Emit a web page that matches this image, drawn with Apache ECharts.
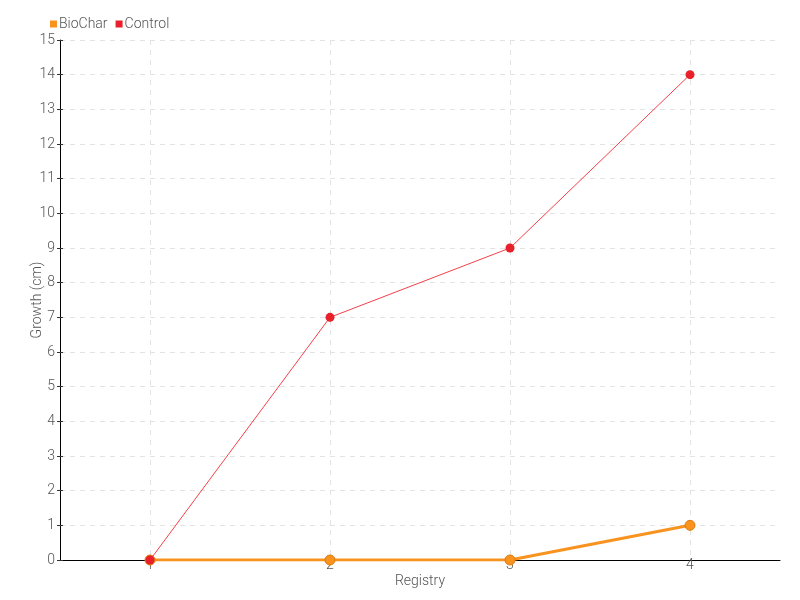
<!DOCTYPE html>
<html><head><meta charset="utf-8">
<script src="https://cdn.jsdelivr.net/npm/echarts@6/dist/echarts.min.js"></script>
<style>html,body{margin:0;padding:0;background:#fff}#c{width:800px;height:600px}</style>
</head><body><div id="c"></div>
<script>
const categories = ['1', '2', '3', '4'];
const biochar = [0, 0, 0, 1];
const control = [0, 7, 9, 14];
const FONT = "Roboto, 'DejaVu Sans', sans-serif";
const TXT = {fontFamily: FONT, fontSize: 14, fontWeight: 300, color: '#555'};
const chart = echarts.init(document.getElementById('c'));
chart.setOption({
  textStyle: {fontFamily: FONT},
  legend: {
    left: 45, top: 12, itemWidth: 7, itemHeight: 7, itemGap: 8,
    icon: 'rect',
    itemStyle: {borderWidth: 0},
    textStyle: Object.assign({padding: [0, 0, 0, -3]}, TXT),
    data: ['BioChar', 'Control']
  },
  grid: {left: 60, right: 20, top: 40, bottom: 40},
  xAxis: {
    type: 'category', data: categories, boundaryGap: true,
    name: 'Registry', nameLocation: 'middle', nameGap: 14, nameMoveOverlap: false,
    nameTextStyle: TXT,
    axisLine: {lineStyle: {color: '#000'}},
    axisTick: {alignWithLabel: true, length: 10, lineStyle: {color: '#555'}},
    axisLabel: Object.assign({margin: -2}, TXT),
    splitLine: {show: true, alignWithLabel: true, lineStyle: {color: '#e3e3e3', type: [5, 5]}}
  },
  yAxis: [{
    type: 'value', min: 0, max: 15, interval: 1,
    name: 'Growth (cm)', nameLocation: 'middle', nameGap: 16, nameMoveOverlap: false,
    nameTextStyle: TXT,
    axisLine: {show: true, lineStyle: {color: '#000'}},
    axisTick: {show: true, length: 3, lineStyle: {color: '#333'}},
    axisLabel: Object.assign({margin: 5}, TXT),
    splitLine: {show: true, lineStyle: {color: '#e3e3e3', type: [5, 5]}}
  }, {
    type: 'value', min: 0, max: 15, interval: 1, position: 'left',
    axisLine: {show: false},
    axisTick: {show: true, inside: true, length: 3, lineStyle: {color: '#333'}},
    axisLabel: {show: false},
    splitLine: {show: false}
  }],
  series: [
    {
      name: 'BioChar', type: 'line', data: biochar, z: 2,
      symbol: 'circle', symbolSize: 10,
      itemStyle: {color: '#f7931e', borderColor: '#e07a10', borderWidth: 1},
      lineStyle: {color: '#f7931e', width: 3}
    },
    {
      name: 'Control', type: 'line', data: control, z: 3,
      symbol: 'circle', symbolSize: 9,
      itemStyle: {color: '#e8202a', borderColor: '#e8202a', borderWidth: 0},
      lineStyle: {color: '#f2404a', width: 1}
    }
  ],
  animation: false
});
</script></body></html>
